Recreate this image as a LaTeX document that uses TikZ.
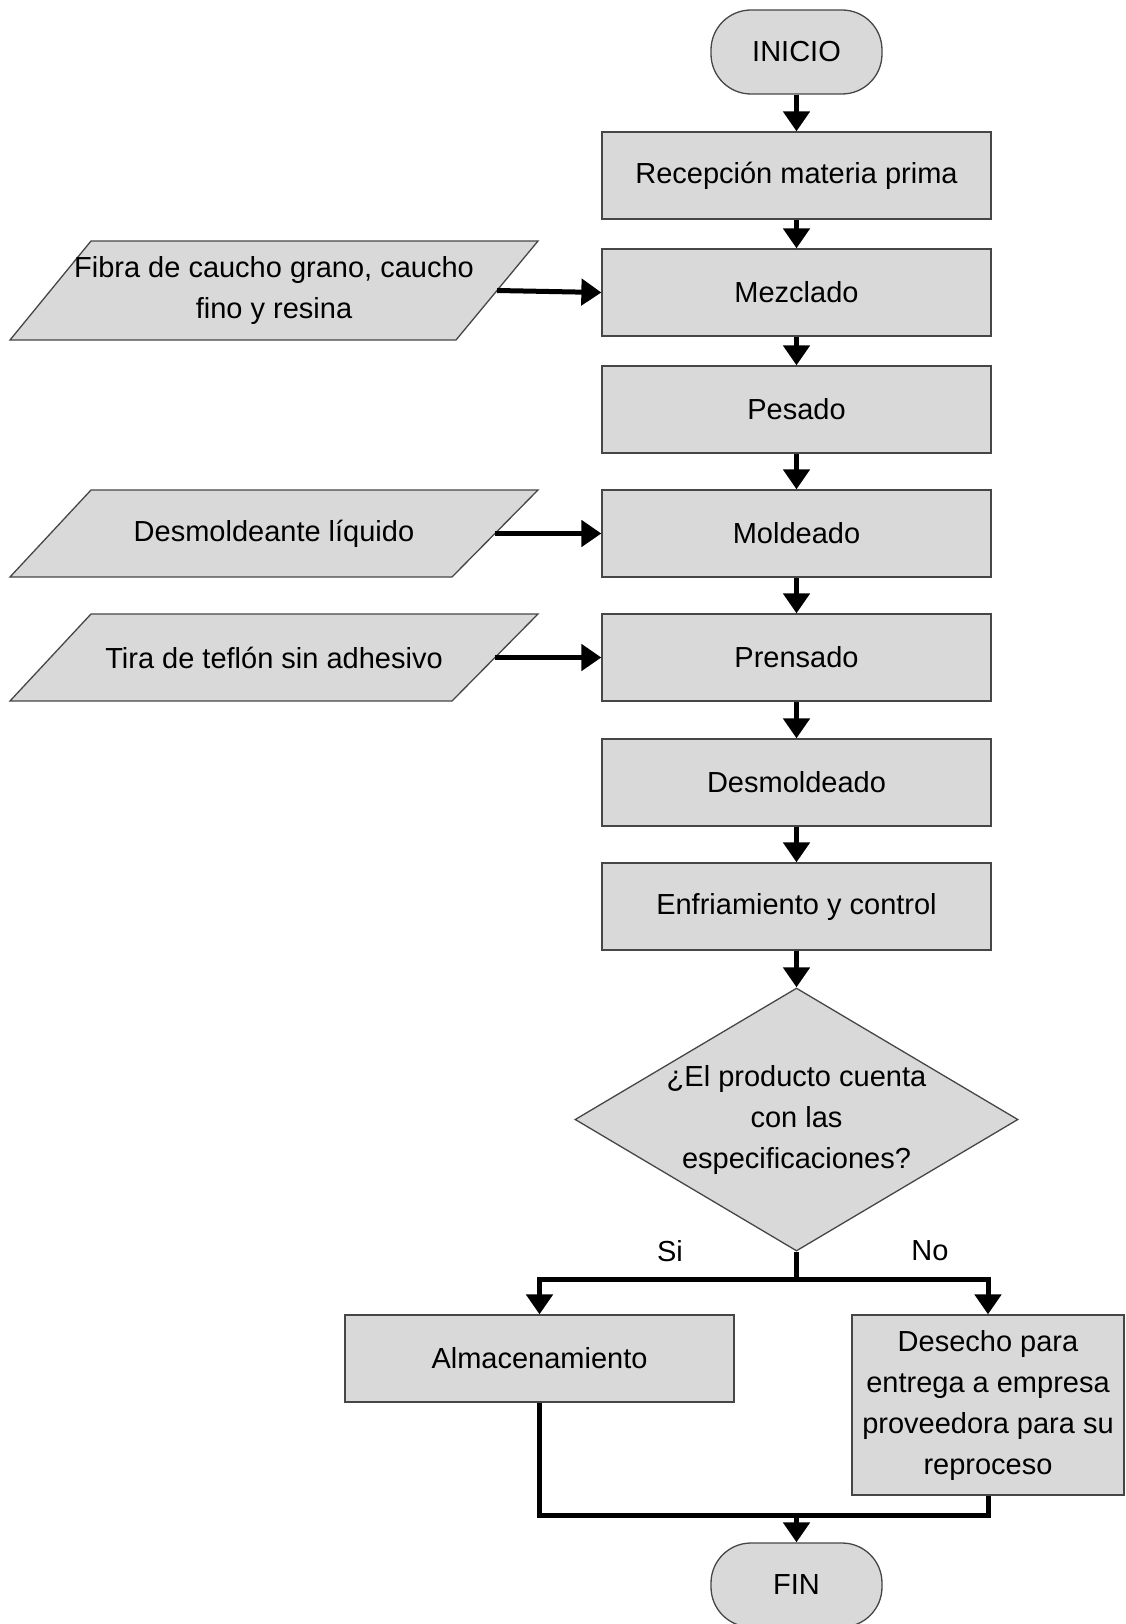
\documentclass[tikz,border=0pt]{standalone}
\usepackage{fontspec}
\setmainfont{Liberation Sans}
\usetikzlibrary{arrows.meta,shapes.geometric}
\definecolor{boxfill}{RGB}{217,217,217}
\definecolor{boxline}{RGB}{70,70,70}
\begin{document}
\begin{tikzpicture}[x=1pt,y=-1pt,
  every node/.style={font=\fontsize{29}{41}\selectfont, text=black},
  proc/.style={rectangle, draw=boxline, fill=boxfill, line width=1.3pt, minimum width=389pt, minimum height=87pt, inner sep=0pt, align=center},
  term/.style={rectangle, rounded corners=40pt, draw=boxline, fill=boxfill, line width=1.3pt, minimum width=171pt, minimum height=84pt, inner sep=0pt},
  decis/.style={diamond, draw=boxline, fill=boxfill, line width=1.3pt, minimum width=443pt, minimum height=263pt, inner sep=0pt},
  io/.style={draw=boxline, fill=boxfill, line width=1.3pt},
  flow/.style={line width=5pt, -{Triangle[length=20pt,width=26pt]}},
  link/.style={line width=5pt},
  lbl/.style={align=center, inner sep=0pt}
]
\useasboundingbox (0,0) rectangle (1125,1624);

% terminals and process boxes
\node[term] (ini) at (796.5,52) {INICIO};
\node[proc] (rec) at (796.5,175.5) {Recepción materia prima};
\node[proc] (mez) at (796.5,292.5) {Mezclado};
\node[proc] (pes) at (796.5,409.5) {Pesado};
\node[proc] (mol) at (796.5,533.5) {Moldeado};
\node[proc] (pre) at (796.5,657.5) {Prensado};
\node[proc] (dsm) at (796.5,782.5) {Desmoldeado};
\node[proc] (enf) at (796.5,906.5) {Enfriamiento y control};
\node[decis] (dec) at (796.5,1119.5) {};
\node[lbl] (dectxt) at (796.5,1119.5) {¿El producto cuenta\\con las\\especificaciones?};
\node[proc] (alm) at (539.5,1358.5) {Almacenamiento};
\node[proc, minimum width=272pt, minimum height=180pt] (des) at (988,1405) {Desecho para\\entrega a empresa\\proveedora para su\\reproceso};
\node[term] (fin) at (796.5,1585) {FIN};

% input parallelograms
\draw[io] (91,241) -- (538,241) -- (456,340) -- (10,340) -- cycle;
\node[lbl] (fib) at (274,290.5) {Fibra de caucho grano, caucho\\fino y resina};
\coordinate (fibE) at (497,290.5);

\draw[io] (91,490) -- (538,490) -- (452,577) -- (10,577) -- cycle;
\node[lbl] (dli) at (274,533.5) {Desmoldeante líquido};
\coordinate (dliE) at (495,533.5);

\draw[io] (91,614) -- (538,614) -- (452,701) -- (10,701) -- cycle;
\node[lbl] (tir) at (274,657.5) {Tira de teflón sin adhesivo};
\coordinate (tirE) at (495,657.5);

% main flow
\draw[flow] (ini) -- (rec);
\draw[flow] (rec) -- (mez);
\draw[flow] (mez) -- (pes);
\draw[flow] (pes) -- (mol);
\draw[flow] (mol) -- (pre);
\draw[flow] (pre) -- (dsm);
\draw[flow] (dsm) -- (enf);
\draw[flow] (enf) -- (dec);

\draw[flow] (fibE) -- (mez.west);
\draw[flow] (dliE) -- (mol.west);
\draw[flow] (tirE) -- (pre.west);

% branch
\coordinate (br) at (796.5,1279);
\draw[link] (dec.south) -- (br);
\draw[flow] (br) -| (alm.north);
\draw[flow] (br) -| (des.north);
\node[lbl] (si) at (670,1251) {Si};
\node[lbl] (no) at (930,1251) {No};

% merge
\coordinate (mrg) at (796.5,1515);
\draw[link] (alm.south) |- (des.south |- mrg) -- (des.south);
\draw[flow] (mrg) -- (fin.north);
\end{tikzpicture}
\end{document}
